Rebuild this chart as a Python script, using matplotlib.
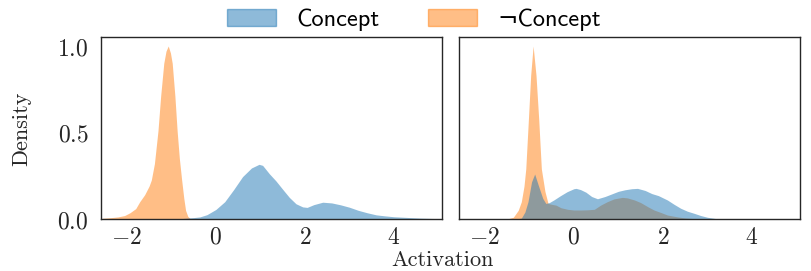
import matplotlib
matplotlib.use('Agg')
import matplotlib.pyplot as plt
from matplotlib.patches import Patch
from matplotlib.ticker import FuncFormatter

plt.rcParams['mathtext.fontset'] = 'cm'
plt.rcParams['axes.unicode_minus'] = True

# densities (activation, density)
left_not_x = [-2.55, -2.35, -2.2, -2.05, -1.93, -1.8, -1.71, -1.6, -1.5, -1.45, -1.38, -1.3,
              -1.24, -1.17, -1.12, -1.07, -1.02, -0.98, -0.92, -0.87, -0.82, -0.77, -0.72,
              -0.68, -0.63, -0.58, -0.5]
left_not_y = [0.004, 0.008, 0.012, 0.02, 0.036, 0.06, 0.10, 0.14, 0.19, 0.225, 0.32, 0.51,
              0.71, 0.90, 0.97, 1.0, 0.96, 0.90, 0.71, 0.51, 0.35, 0.23, 0.12,
              0.05, 0.015, 0.003, 0.0]

left_con_x = [-0.85, -0.7, -0.5, -0.36, -0.2, 0.0, 0.2, 0.4, 0.6, 0.8, 0.97, 1.05, 1.2, 1.35,
              1.5, 1.65, 1.8, 1.95, 2.05, 2.2, 2.4, 2.6, 2.8, 3.0, 3.2, 3.4, 3.6, 3.8, 4.0,
              4.3, 4.6, 5.0, 5.2]
left_con_y = [0.0, 0.004, 0.008, 0.012, 0.025, 0.055, 0.10, 0.17, 0.245, 0.295, 0.316, 0.31,
              0.262, 0.22, 0.172, 0.125, 0.088, 0.07, 0.067, 0.083, 0.097, 0.093, 0.082,
              0.068, 0.05, 0.036, 0.024, 0.018, 0.013, 0.009, 0.005, 0.002, 0.001]

right_not_x = [-1.5, -1.36, -1.25, -1.18, -1.12, -1.08, -1.02, -0.97, -0.915, -0.85, -0.79,
               -0.73, -0.65, -0.58, -0.5, -0.4, -0.29, -0.14, 0.0, 0.16, 0.3, 0.46, 0.6, 0.75,
               0.9, 1.09, 1.2, 1.36, 1.5, 1.66, 1.8, 1.96, 2.1, 2.33, 2.5, 2.7, 2.9]
right_not_y = [0.0, 0.01, 0.05, 0.10, 0.19, 0.29, 0.58, 0.83, 1.0, 0.83, 0.58,
               0.29, 0.16, 0.09, 0.085, 0.08, 0.065, 0.056, 0.052, 0.052, 0.053, 0.056, 0.08,
               0.10, 0.116, 0.125, 0.122, 0.11, 0.095, 0.071, 0.052, 0.037, 0.023, 0.012,
               0.006, 0.002, 0.0]

right_con_x = [-1.3, -1.18, -1.1, -1.03, -0.95, -0.88, -0.8, -0.7, -0.63, -0.55, -0.45, -0.3,
               -0.15, 0.0, 0.05, 0.15, 0.27, 0.4, 0.53, 0.7, 0.85, 1.0, 1.15, 1.3, 1.43, 1.6,
               1.75, 1.9, 2.1, 2.25, 2.4, 2.55, 2.7, 2.85, 3.0, 3.2, 3.4]
right_con_y = [0.0, 0.005, 0.04, 0.10, 0.215, 0.26, 0.196, 0.12, 0.09, 0.095, 0.11, 0.135,
               0.158, 0.175, 0.177, 0.17, 0.155, 0.13, 0.117, 0.13, 0.145, 0.16, 0.169,
               0.175, 0.177, 0.165, 0.147, 0.135, 0.11, 0.085, 0.062, 0.045, 0.033, 0.02,
               0.01, 0.002, 0.0]

blue = '#1f77b4'
orange = '#ff7f0e'

fig = plt.figure(figsize=(8.12, 2.71), dpi=100)
ax1 = fig.add_axes([101 / 812, 52 / 271, 341 / 812, 182 / 271])
ax2 = fig.add_axes([459 / 812, 52 / 271, 341 / 812, 182 / 271], sharey=ax1)

panels = [(ax1, left_con_x, left_con_y, left_not_x, left_not_y),
          (ax2, right_con_x, right_con_y, right_not_x, right_not_y)]

for ax, cx, cy, nx, ny in panels:
    ax.fill_between(nx, ny, color=orange, alpha=0.5, linewidth=0)
    ax.fill_between(cx, cy, color=blue, alpha=0.5, linewidth=0)
    ax.set_xlim(-2.58, 5.08)
    ax.set_xticks([-2, 0, 2, 4])
    ax.xaxis.set_major_formatter(FuncFormatter(lambda v, p: r'$%d$' % v))
    ax.tick_params(length=0, labelsize=17, pad=4, labelcolor='#262626')
    for s in ax.spines.values():
        s.set_color('#262626')
        s.set_linewidth(1.0)

ax1.set_ylim(0, 1.052)
ax1.set_yticks([0, 0.5, 1.0])
ax1.yaxis.set_major_formatter(FuncFormatter(lambda v, p: r'$%.1f$' % v))
ax1.tick_params(axis='y', pad=9)
ax2.tick_params(axis='y', labelleft=False)

fig.text(22 / 812, 0.525, 'Density', rotation=90, ha='center', va='center',
         family='cmr10', fontsize=16, color='#262626')
fig.text(442 / 812, 0.038, 'Activation', ha='center', va='center',
         family='cmr10', fontsize=16, color='#262626')

handles = [Patch(facecolor=blue, edgecolor=blue, alpha=0.5, linewidth=1),
           Patch(facecolor=orange, edgecolor=orange, alpha=0.5, linewidth=1)]
fig.legend(handles, ['Concept', '\u00acConcept'], loc='upper center',
           bbox_to_anchor=(0.51, 1.05), ncol=2, frameon=False,
           prop={'family': ['cmss10', 'DejaVu Sans'], 'size': 17.5},
           handlelength=2.0, handletextpad=0.85, columnspacing=2.0)

fig.savefig('out.png', dpi=100)
